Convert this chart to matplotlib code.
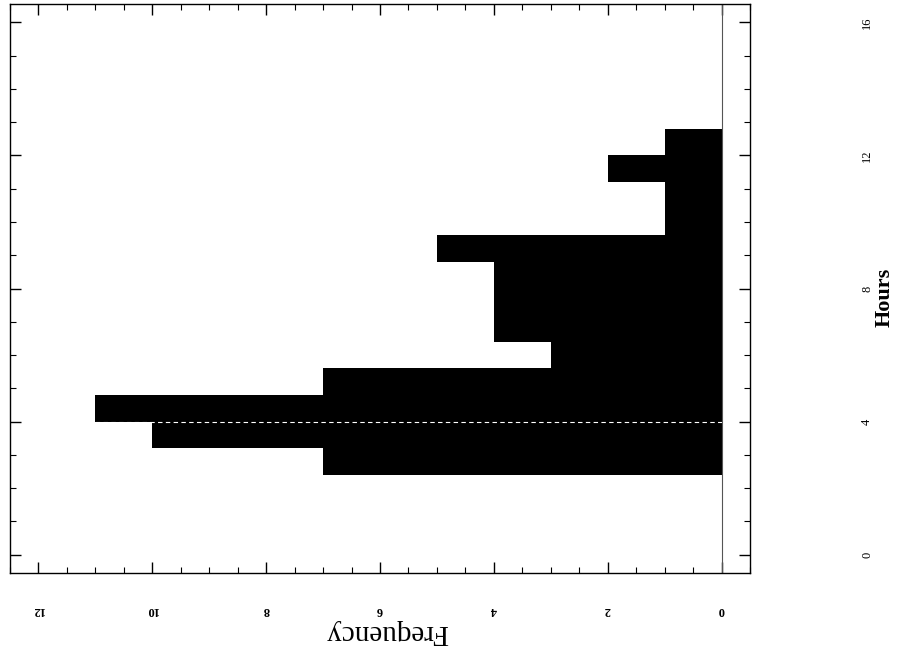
import numpy as np
import matplotlib
matplotlib.use("Agg")
import matplotlib.pyplot as plt
from matplotlib.ticker import MultipleLocator

# histogram of hours (bins 0.8 h wide), page is scanned rotated 90 deg
bin_start = [2.4, 3.2, 4.0, 4.8, 5.6, 6.4, 7.2, 8.0, 8.8, 9.6, 10.4, 11.2, 12.0]
frequency = [7, 10, 11, 7, 3, 4, 4, 4, 5, 1, 1, 2, 1]
bin_width = 0.8

hour_ticks = [0, 4, 8, 12, 16]
freq_ticks = [0, 2, 4, 6, 8, 10, 12]

plt.rcParams['font.family'] = ['Liberation Serif', 'DejaVu Serif']

fig = plt.figure(figsize=(9.06, 6.61), dpi=100)
ax = fig.add_axes([10/906, 1 - 573/661, 740/906, 569/661])

ax.barh(bin_start, frequency, height=bin_width, align='edge',
        color='black', linewidth=0, antialiased=False)

# faint scan line at one bin boundary
k = bin_start.index(4.0)
ax.hlines(bin_start[k], 0, max(frequency[k-1], frequency[k]),
          colors='white', linestyles=(0, (4, 3)), linewidth=0.8)

ax.axvline(0, color='#555555', linewidth=0.8)

ax.set_xlim(12.5, -0.5)
ax.set_ylim(-0.55, 16.55)

ax.set_xticks(freq_ticks)
ax.set_xticklabels([str(t) for t in freq_ticks], rotation=180, fontsize=9,
                   fontweight='bold')
ax.xaxis.set_minor_locator(MultipleLocator(0.5))
ax.set_yticks(hour_ticks)
ax.set_yticklabels([str(t) for t in hour_ticks], rotation=90, fontsize=9,
                   va='center')
ax.yaxis.set_minor_locator(MultipleLocator(1))
ax.yaxis.tick_right()

ax.tick_params(which='both', direction='in', top=True, bottom=True,
               left=True, right=True, labelleft=False, labeltop=False)
ax.tick_params(which='major', length=8, width=1.0)
ax.tick_params(which='minor', length=4, width=0.8)
ax.tick_params(axis='x', which='major', pad=22)
ax.tick_params(axis='y', which='major', pad=80)

for s in ax.spines.values():
    s.set_linewidth(1.0)

fig.text(387/906, 1 - 632/661, "Frequency", rotation=180, fontsize=21,
         ha='center', va='center')
fig.text(885/906, 1 - 297/661, "Hours", rotation=90, fontsize=16,
         fontweight='bold', ha='center', va='center')

fig.savefig("out.png", dpi=100)
